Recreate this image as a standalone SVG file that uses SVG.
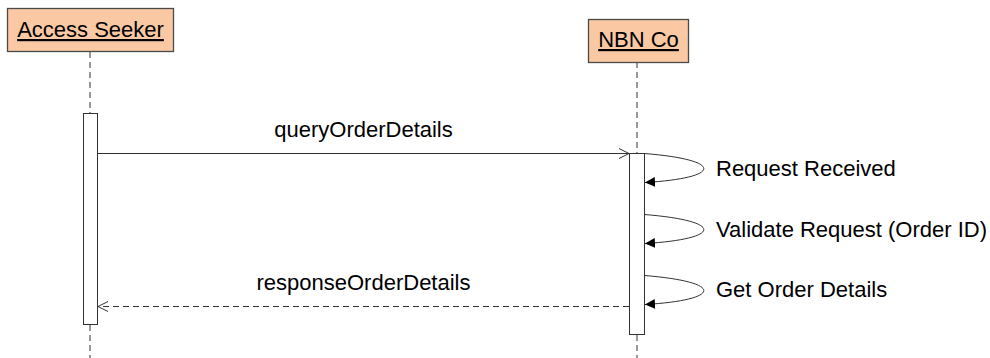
<svg xmlns="http://www.w3.org/2000/svg" width="990" height="358" viewBox="0 0 990 358">
<style>
text{font-family:"Liberation Sans",Arial,sans-serif;font-size:22px;fill:#000}
.actor{fill:#FAC9A3;stroke:#4a4a4a;stroke-width:1.3}
.actor text{text-decoration:underline}
.life{stroke:#333;stroke-width:1;stroke-dasharray:6,4;fill:none}
.act{fill:#fff;stroke:#333;stroke-width:1}
.msg{stroke:#333;stroke-width:1;fill:none}
.dash{stroke-dasharray:6,4}
</style>
<defs>
<marker id="open" markerWidth="12" markerHeight="12" refX="11" refY="6" orient="auto" markerUnits="userSpaceOnUse">
<path d="M1,1 L11,6 L1,11" fill="none" stroke="#333" stroke-width="1"/>
</marker>
<marker id="solid" markerWidth="12" markerHeight="12" refX="10" refY="5" orient="auto" markerUnits="userSpaceOnUse">
<path d="M0,0 L10,5 L0,10 Z" fill="#000"/>
</marker>
</defs>
<g id="lifelines">
<line class="life" x1="90" y1="52" x2="90" y2="113"/>
<line class="life" x1="90" y1="325" x2="90" y2="358"/>
<line class="life" x1="637" y1="62" x2="637" y2="153"/>
<line class="life" x1="637" y1="335" x2="637" y2="358"/>
</g>
<g id="access-seeker">
<rect class="actor" x="7.5" y="8.5" width="166" height="43"/>
<text x="90.5" y="37" text-anchor="middle" style="text-decoration:underline">Access Seeker</text>
</g>
<g id="nbn-co">
<rect class="actor" x="588.5" y="19.5" width="100" height="43"/>
<text x="638.5" y="47" text-anchor="middle" style="text-decoration:underline">NBN Co</text>
</g>
<g id="access-seeker-activation">
<rect class="act" x="83.5" y="113.5" width="14" height="211"/>
</g>
<g id="nbn-co-activation">
<rect class="act" x="629.5" y="153.5" width="15" height="181"/>
</g>
<g id="connectors">
<line class="msg" x1="97.5" y1="153.5" x2="629" y2="153.5" marker-end="url(#open)"/>
<text x="363.5" y="137" text-anchor="middle">queryOrderDetails</text>
<line class="msg dash" x1="629" y1="306.5" x2="98" y2="306.5" marker-end="url(#open)"/>
<text x="363.5" y="290" text-anchor="middle">responseOrderDetails</text>
<path class="msg" d="M644.5,153.5 C725,160 722,178 645,182.5" marker-end="url(#solid)"/>
<text x="716" y="176">Request Received</text>
<path class="msg" d="M644.5,214.5 C725,221 722,239 645,243.5" marker-end="url(#solid)"/>
<text x="716" y="237">Validate Request (Order ID)</text>
<path class="msg" d="M644.5,275.5 C725,282 722,300 645,304.5" marker-end="url(#solid)"/>
<text x="716" y="297">Get Order Details</text>
</g>
</svg>
